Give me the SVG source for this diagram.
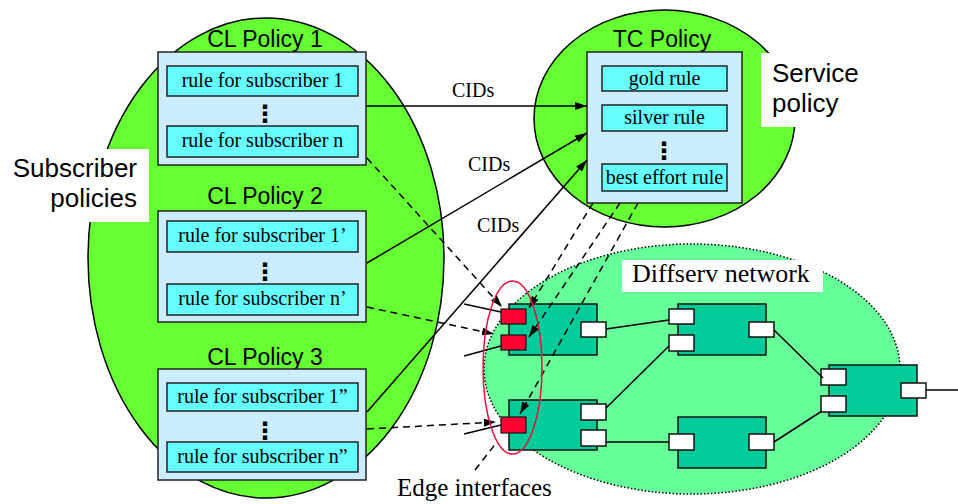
<svg xmlns="http://www.w3.org/2000/svg" width="958" height="504" viewBox="0 0 958 504">
<defs>
<marker id="arr" viewBox="0 0 12 8" refX="12" refY="4" markerWidth="12" markerHeight="8" markerUnits="userSpaceOnUse" orient="auto">
<path d="M0,0 L12,4 L0,8 Z" fill="#000"/>
</marker>
<style>
.sans{font-family:"Liberation Sans",Arial,sans-serif;fill:#000}
.serif{font-family:"Liberation Serif","Times New Roman",serif;fill:#000}
.title{font-size:23px;text-anchor:middle}
.side{font-size:26px}
.rule{font-size:20px;text-anchor:middle}
.dots{font-family:"DejaVu Sans",sans-serif;font-weight:bold;font-size:24px;text-anchor:middle}
.outer{fill:#CCECFF;stroke:#222;stroke-width:1.5}
.inner{fill:#66FFFF;stroke:#222;stroke-width:1.5}
.dev{fill:#00CC99;stroke:#111;stroke-width:1.5}
.port{fill:#fff;stroke:#111;stroke-width:1.5}
.edgeif{fill:#FF0033;stroke:#111;stroke-width:1.2}
.link{stroke:#000;stroke-width:1.5;fill:none}
.solid{stroke:#000;stroke-width:1.5;fill:none;marker-end:url(#arr)}
.dash{stroke:#000;stroke-width:1.5;fill:none;stroke-dasharray:7 5}
.dasharr{stroke:#000;stroke-width:1.5;fill:none;stroke-dasharray:7 5;marker-end:url(#arr)}
</style>
</defs>
<rect width="958" height="504" fill="#fff"/>

<g id="subscriber-policies">
<ellipse cx="266" cy="258" rx="178" ry="240" fill="#66FF33" stroke="#000" stroke-width="1.5"/>
<rect x="0" y="149" width="149" height="73" fill="#fff"/>
<text class="sans side" x="137" y="177" text-anchor="end">Subscriber</text>
<text class="sans side" x="137" y="207" text-anchor="end">policies</text>
</g>

<g id="service-policy">
<ellipse cx="664.5" cy="118.5" rx="130.5" ry="108.5" fill="#66FF33" stroke="#000" stroke-width="1.5"/>
<rect x="761" y="53" width="110" height="74" fill="#fff"/>
<text class="sans side" x="772" y="82">Service</text>
<text class="sans side" x="772" y="112">policy</text>
</g>

<g id="diffserv-network">
<ellipse cx="692" cy="369" rx="208" ry="125" fill="#66FF99" stroke="#000" stroke-width="1.5" stroke-dasharray="1.5 2"/>
<rect x="622" y="260" width="201" height="32" fill="#fff"/>
<text class="serif" x="632" y="282" font-size="26">Diffserv network</text>
</g>

<g id="cl-policy-1">
<text class="sans title" x="265" y="47">CL Policy 1</text>
<rect class="outer" x="158" y="52" width="208" height="113"/>
<rect class="inner" x="167" y="66" width="191" height="30"/>
<text class="serif rule" x="262.5" y="87">rule for subscriber 1</text>
<text class="dots" x="265" y="122">⋮</text>
<rect class="inner" x="167" y="126" width="191" height="31"/>
<text class="serif rule" x="262.5" y="147">rule for subscriber n</text>
</g>

<g id="cl-policy-2">
<text class="sans title" x="265" y="204">CL Policy 2</text>
<rect class="outer" x="158" y="211" width="208" height="111"/>
<rect class="inner" x="167" y="221" width="191" height="31"/>
<text class="serif rule" x="262.5" y="242">rule for subscriber 1’</text>
<text class="dots" x="265" y="280">⋮</text>
<rect class="inner" x="167" y="284" width="191" height="31"/>
<text class="serif rule" x="262.5" y="305">rule for subscriber n’</text>
</g>

<g id="cl-policy-3">
<text class="sans title" x="265" y="365">CL Policy 3</text>
<rect class="outer" x="158" y="369" width="208" height="111"/>
<rect class="inner" x="167" y="383" width="191" height="28"/>
<text class="serif rule" x="262.5" y="403">rule for subscriber 1”</text>
<text class="dots" x="265" y="439">⋮</text>
<rect class="inner" x="167" y="442" width="191" height="30"/>
<text class="serif rule" x="262.5" y="463">rule for subscriber n”</text>
</g>

<g id="tc-policy">
<text class="sans title" x="662" y="47">TC Policy</text>
<rect class="outer" x="587" y="52" width="155" height="151"/>
<rect class="inner" x="602" y="66" width="125" height="25"/>
<text class="serif rule" x="664.5" y="85">gold rule</text>
<rect class="inner" x="602" y="105" width="125" height="26"/>
<text class="serif rule" x="664.5" y="124">silver rule</text>
<text class="dots" x="664" y="159">⋮</text>
<rect class="inner" x="602" y="164" width="125" height="27"/>
<text class="serif rule" x="664.5" y="184">best effort rule</text>
</g>

<g id="router-a">
<rect class="dev" x="509" y="304" width="88" height="51"/>
<rect class="port" x="581" y="322" width="25" height="15"/>
<rect class="edgeif" x="501" y="309" width="25" height="15"/>
<rect class="edgeif" x="501" y="335" width="25" height="15"/>
</g>
<g id="router-b">
<rect class="dev" x="509" y="400" width="88" height="50"/>
<rect class="port" x="581" y="404" width="25" height="16"/>
<rect class="port" x="581" y="430" width="25" height="16"/>
<rect class="edgeif" x="501" y="417" width="25" height="16"/>
</g>
<g id="router-c">
<rect class="dev" x="678" y="304" width="88" height="51"/>
<rect class="port" x="669" y="309" width="25" height="15"/>
<rect class="port" x="669" y="335" width="25" height="16"/>
<rect class="port" x="749" y="322" width="25" height="15"/>
</g>
<g id="router-d">
<rect class="dev" x="678" y="417" width="88" height="51"/>
<rect class="port" x="669" y="434" width="25" height="16"/>
<rect class="port" x="749" y="434" width="25" height="16"/>
</g>
<g id="router-e">
<rect class="dev" x="829" y="365" width="88" height="51"/>
<rect class="port" x="821" y="369" width="25" height="16"/>
<rect class="port" x="821" y="396" width="25" height="16"/>
<rect class="port" x="901" y="383" width="25" height="15"/>
</g>

<g id="connectors">
<line class="link" x1="606" y1="329" x2="669" y2="320"/>
<line class="link" x1="606" y1="408" x2="669" y2="346"/>
<line class="link" x1="606" y1="442" x2="669" y2="442"/>
<line class="link" x1="774" y1="330" x2="823" y2="378"/>
<line class="link" x1="774" y1="442" x2="822" y2="411"/>
<line class="link" x1="926" y1="390" x2="958" y2="390"/>
<line class="link" x1="464" y1="304" x2="501" y2="312"/>
<line class="link" x1="464" y1="356" x2="501" y2="346"/>
<line class="link" x1="464" y1="434" x2="501" y2="425"/>

<line class="solid" x1="366" y1="106" x2="587" y2="106"/>
<line class="solid" x1="367" y1="263" x2="587" y2="133"/>
<line class="solid" x1="367" y1="412" x2="587" y2="160"/>
<text class="serif" x="452" y="97" font-size="20">CIDs</text>
<text class="serif" x="468" y="171" font-size="20">CIDs</text>
<text class="serif" x="477" y="232" font-size="20">CIDs</text>

<line class="dasharr" x1="367" y1="158" x2="502" y2="307"/>
<line class="dasharr" x1="367" y1="307" x2="494" y2="334"/>
<line class="dasharr" x1="367" y1="429" x2="496" y2="422"/>

<line class="dasharr" x1="593" y1="203" x2="529" y2="308"/>
<line class="dasharr" x1="620" y1="203" x2="529" y2="337"/>
<line class="dasharr" x1="638" y1="203" x2="520" y2="414"/>

<line class="dash" x1="475" y1="470" x2="497" y2="442"/>
</g>

<g id="edge-interfaces">
<ellipse cx="512.5" cy="367.5" rx="29.5" ry="86.5" fill="none" stroke="#E8103C" stroke-width="1.5"/>
<text class="serif" x="397" y="496" font-size="25">Edge interfaces</text>
</g>
</svg>
